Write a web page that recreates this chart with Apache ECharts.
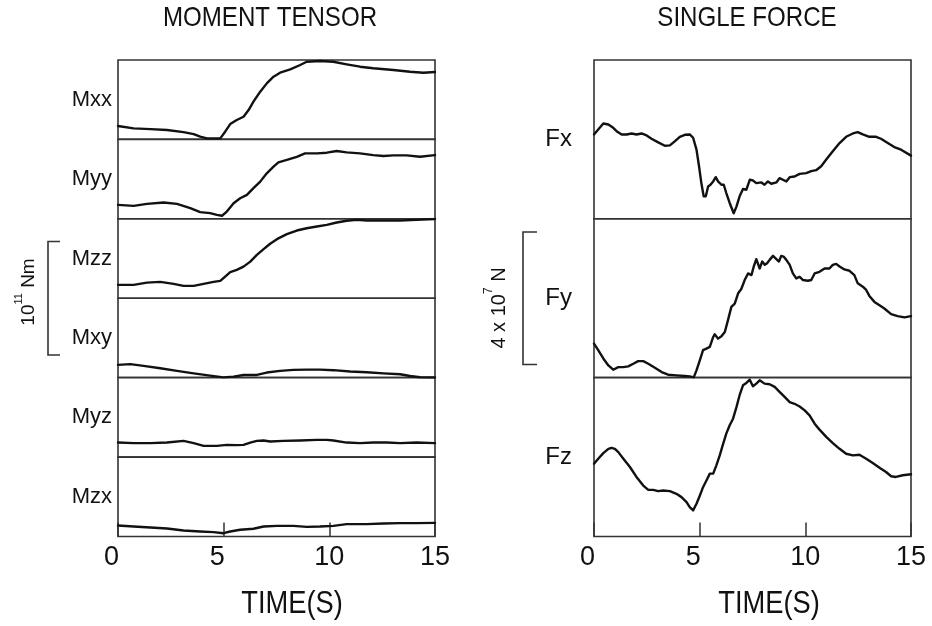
<!DOCTYPE html>
<html>
<head>
<meta charset="utf-8">
<script src="https://cdn.jsdelivr.net/npm/echarts@6/dist/echarts.min.js"></script>
<style>
html, body { margin: 0; padding: 0; background: #fff; }
#chart { width: 932px; height: 626px; }
</style>
</head>
<body>
<div id="chart"></div>
<script>
// ---- data -------------------------------------------------------------
// Time axis (s)
const TIME_MIN = 0;
const TIME_MAX = 15;
const TIME_STEP = 5;

const MOMENT_NAMES = ['Mxx', 'Myy', 'Mzz', 'Mxy', 'Myz', 'Mzx'];
const FORCE_NAMES = ['Fx', 'Fy', 'Fz'];

// Moment tensor components: [time (s), moment (1e11 Nm), arbitrary offset]
const MXX = [[0,0.118],[0.74,0.097],[1.53,0.091],[2.32,0.083],[3.10,0.064],[3.58,0.047],[3.89,0.024],[4.21,0.009],[4.84,0.009],[5.07,0.068],[5.31,0.135],[5.62,0.171],[5.94,0.200],[6.18,0.259],[6.41,0.333],[6.73,0.421],[7.04,0.494],[7.36,0.553],[7.67,0.588],[8.15,0.617],[8.62,0.656],[8.93,0.685],[9.56,0.691],[10.19,0.685],[10.82,0.662],[11.45,0.641],[12.08,0.627],[13.03,0.612],[13.82,0.597],[14.45,0.588],[15,0.594]];
const MYY = [[0,0.123],[0.74,0.114],[1.37,0.132],[2.16,0.144],[2.79,0.132],[3.42,0.094],[3.89,0.059],[4.36,0.050],[4.68,0.035],[4.92,0.027],[5.15,0.064],[5.47,0.138],[5.78,0.181],[6.10,0.211],[6.41,0.270],[6.73,0.328],[7.04,0.401],[7.36,0.460],[7.59,0.498],[7.99,0.519],[8.46,0.547],[8.85,0.577],[9.41,0.577],[9.88,0.583],[10.35,0.598],[10.82,0.586],[11.45,0.577],[12.08,0.562],[12.56,0.554],[13.03,0.559],[13.66,0.559],[14.29,0.547],[15,0.562]];
const MZZ = [[0,0.118],[0.74,0.118],[1.37,0.138],[2.00,0.144],[2.63,0.127],[3.10,0.109],[3.58,0.109],[4.05,0.127],[4.52,0.144],[4.84,0.153],[5.07,0.191],[5.31,0.230],[5.62,0.250],[5.94,0.279],[6.26,0.323],[6.57,0.382],[6.89,0.433],[7.20,0.480],[7.52,0.521],[7.99,0.565],[8.46,0.597],[8.93,0.617],[9.41,0.632],[9.88,0.647],[10.35,0.668],[10.82,0.683],[11.30,0.691],[11.77,0.685],[12.56,0.685],[13.35,0.685],[14.13,0.691],[15,0.698]];
const MXY = [[0,0.113],[0.58,0.119],[1.21,0.104],[2.00,0.083],[2.79,0.060],[3.58,0.038],[4.36,0.018],[4.99,0.003],[5.47,0.009],[5.94,0.024],[6.57,0.024],[7.04,0.045],[7.67,0.060],[8.30,0.069],[8.93,0.071],[9.56,0.071],[10.19,0.066],[10.98,0.054],[11.77,0.048],[12.56,0.038],[13.35,0.030],[13.82,0.015],[14.29,0.004],[15,0.002]];
const MYZ = [[0,0.128],[0.74,0.123],[1.53,0.123],[2.32,0.128],[3.10,0.143],[3.58,0.123],[4.05,0.099],[4.68,0.099],[5.15,0.108],[5.62,0.105],[5.94,0.108],[6.26,0.128],[6.57,0.143],[6.89,0.146],[7.20,0.137],[7.83,0.143],[8.62,0.146],[9.41,0.152],[9.88,0.152],[10.19,0.146],[10.82,0.128],[11.45,0.123],[12.08,0.128],[12.72,0.128],[13.35,0.123],[14.13,0.128],[15,0.123]];
const MZX = [[0,0.097],[0.74,0.088],[1.53,0.079],[2.32,0.071],[3.10,0.053],[3.89,0.044],[4.52,0.039],[4.99,0.029],[5.31,0.044],[5.78,0.059],[6.41,0.068],[6.89,0.088],[7.52,0.094],[8.30,0.094],[8.93,0.085],[9.56,0.088],[10.19,0.094],[10.82,0.109],[11.77,0.109],[12.56,0.115],[13.35,0.118],[14.13,0.118],[15,0.120]];

// Single force components: [time (s), force (1e7 N), arbitrary offset]
const FX = [[0,2.55],[0.20,2.70],[0.44,2.88],[0.68,2.85],[0.91,2.75],[1.07,2.65],[1.31,2.55],[1.54,2.55],[1.78,2.58],[2.01,2.55],[2.25,2.58],[2.49,2.52],[2.72,2.42],[3.04,2.31],[3.35,2.21],[3.59,2.22],[3.82,2.34],[4.06,2.48],[4.30,2.54],[4.53,2.55],[4.69,2.45],[4.85,2.09],[4.97,1.59],[5.08,1.08],[5.19,0.68],[5.29,0.68],[5.40,0.98],[5.51,1.03],[5.64,1.13],[5.76,1.26],[5.87,1.13],[6.03,1.03],[6.14,1.03],[6.26,0.78],[6.42,0.48],[6.61,0.17],[6.74,0.37],[6.89,0.68],[7.05,0.90],[7.21,0.88],[7.37,1.18],[7.52,1.16],[7.68,1.08],[7.92,1.10],[8.07,1.03],[8.23,1.13],[8.39,1.06],[8.63,1.10],[8.78,1.23],[8.94,1.18],[9.10,1.13],[9.26,1.26],[9.49,1.28],[9.73,1.36],[10.04,1.38],[10.28,1.44],[10.51,1.47],[10.75,1.59],[10.99,1.79],[11.30,2.04],[11.62,2.29],[11.93,2.48],[12.25,2.58],[12.48,2.62],[12.72,2.55],[13.03,2.48],[13.35,2.48],[13.58,2.42],[13.90,2.29],[14.21,2.17],[14.53,2.09],[15,1.91]];
const FY = [[0,1.03],[0.20,0.83],[0.44,0.58],[0.68,0.37],[0.91,0.24],[1.15,0.32],[1.39,0.32],[1.62,0.34],[1.86,0.42],[2.09,0.50],[2.33,0.50],[2.57,0.42],[2.88,0.30],[3.20,0.17],[3.51,0.09],[3.90,0.07],[4.30,0.05],[4.53,0.04],[4.72,0.01],[4.85,0.22],[5.01,0.53],[5.16,0.83],[5.32,0.88],[5.48,0.93],[5.64,1.23],[5.71,1.31],[5.87,1.18],[6.03,1.25],[6.19,1.38],[6.34,1.74],[6.50,2.14],[6.66,2.24],[6.82,2.55],[6.97,2.68],[7.13,2.95],[7.29,3.15],[7.45,3.10],[7.56,3.36],[7.68,3.58],[7.84,3.30],[7.96,3.51],[8.08,3.41],[8.19,3.46],[8.31,3.56],[8.47,3.68],[8.63,3.58],[8.75,3.51],[8.86,3.68],[8.97,3.66],[9.10,3.56],[9.26,3.41],[9.41,3.15],[9.57,3.00],[9.73,3.05],[9.89,2.95],[10.12,2.93],[10.28,2.95],[10.44,3.15],[10.67,3.20],[10.91,3.30],[11.14,3.30],[11.30,3.41],[11.46,3.44],[11.62,3.36],[11.85,3.27],[12.09,3.23],[12.32,3.10],[12.48,2.85],[12.72,2.75],[12.88,2.65],[13.03,2.47],[13.27,2.29],[13.51,2.19],[13.74,2.09],[14.06,1.92],[14.37,1.86],[14.69,1.82],[15,1.86]];
const FZ = [[0,2.20],[0.20,2.35],[0.44,2.52],[0.68,2.65],[0.83,2.68],[0.99,2.65],[1.15,2.55],[1.39,2.35],[1.70,2.10],[2.01,1.80],[2.33,1.54],[2.57,1.41],[2.80,1.41],[3.04,1.37],[3.27,1.39],[3.59,1.37],[3.90,1.29],[4.14,1.19],[4.38,1.04],[4.53,0.89],[4.69,0.79],[4.85,0.99],[5.01,1.24],[5.16,1.49],[5.32,1.69],[5.48,1.90],[5.64,1.90],[5.79,2.15],[5.95,2.45],[6.11,2.80],[6.26,3.11],[6.42,3.36],[6.58,3.56],[6.74,3.91],[6.89,4.27],[7.05,4.57],[7.21,4.64],[7.37,4.74],[7.52,4.54],[7.68,4.62],[7.84,4.72],[7.92,4.74],[8.07,4.62],[8.31,4.60],[8.55,4.52],[8.78,4.37],[9.02,4.22],[9.26,4.06],[9.49,4.01],[9.73,3.93],[9.97,3.81],[10.20,3.66],[10.44,3.41],[10.67,3.23],[10.99,3.01],[11.30,2.82],[11.62,2.65],[11.93,2.50],[12.25,2.45],[12.56,2.47],[12.88,2.35],[13.19,2.22],[13.51,2.08],[13.82,1.95],[14.06,1.82],[14.29,1.80],[14.61,1.85],[15,1.88]];

const MOMENT_DATA = [MXX, MYY, MZZ, MXY, MYZ, MZX];
const FORCE_DATA = [FX, FY, FZ];

// Vertical span of each panel in its own units
const MOMENT_SPAN = 0.7;   // 1e11 Nm
const FORCE_SPAN = 4.8;    // 1e7 N
const MOMENT_BAR = 1;      // scale bar: 1e11 Nm
const FORCE_BAR = 4;       // scale bar: 4e7 N

// ---- layout -------------------------------------------------------------
const PLOT_TOP = 60;
const PLOT_BOTTOM = 536.5;
const PLOT_W = 317;
const LEFT_X = 118;
const RIGHT_X = 594;
const FONT = '"Liberation Sans", Arial, Helvetica, sans-serif';
const INK = '#111';
const FRAME = '#333';

const mH = (PLOT_BOTTOM - PLOT_TOP) / MOMENT_NAMES.length;
const fH = (PLOT_BOTTOM - PLOT_TOP) / FORCE_NAMES.length;

const grids = [], xAxes = [], yAxes = [], series = [];

function addPanel(left, top, height, name, data, span, isBottom, nameGap, nameSize) {
  const i = grids.length;
  grids.push({
    left: left, top: top, width: PLOT_W, height: height,
    show: true, borderColor: FRAME, borderWidth: 1.6, backgroundColor: '#fff'
  });
  xAxes.push({
    gridIndex: i, type: 'value', min: TIME_MIN, max: TIME_MAX, interval: TIME_STEP,
    axisLine: { show: false },
    splitLine: { show: false },
    axisTick: { show: isBottom, inside: true, length: 14, lineStyle: { color: FRAME, width: 1.5 } },
    axisLabel: {
      show: isBottom, margin: 8, color: INK, fontSize: 27, fontFamily: FONT,
      formatter: v => (v === 0 || v === 5) ? '{s|' + v + '}' : String(v),
      rich: { s: { fontSize: 27, fontFamily: FONT, color: INK, padding: [0, 13, 0, 0] } }
    }
  });
  yAxes.push({
    gridIndex: i, type: 'value', min: 0, max: span,
    axisLine: { show: false }, axisTick: { show: false }, axisLabel: { show: false },
    splitLine: { show: false },
    name: name, nameLocation: 'middle', nameRotate: 0, nameGap: nameGap,
    nameTextStyle: { color: INK, fontSize: nameSize, fontFamily: FONT, padding: [18, 0, 0, 0] }
  });
  series.push({
    type: 'line', name: name, xAxisIndex: i, yAxisIndex: i, data: data,
    showSymbol: false, smooth: false, animation: false,
    lineStyle: { color: INK, width: 2.4, join: 'round', cap: 'round' }
  });
}

MOMENT_NAMES.forEach((n, k) => addPanel(LEFT_X, PLOT_TOP + k * mH, mH, n, MOMENT_DATA[k],
  MOMENT_SPAN, k === MOMENT_NAMES.length - 1, 6, 22));
FORCE_NAMES.forEach((n, k) => addPanel(RIGHT_X, PLOT_TOP + k * fH, fH, n, FORCE_DATA[k],
  FORCE_SPAN, k === FORCE_NAMES.length - 1, 22, 24));

// scale bars, sized from the panel scales
const mBar = MOMENT_BAR * mH / MOMENT_SPAN;
const fBar = FORCE_BAR * fH / FORCE_SPAN;
const mBarMid = PLOT_TOP + 3 * mH;
const fBarMid = PLOT_TOP + 1.5 * fH;

function bracket(x, xEnd, mid, len) {
  return {
    type: 'polyline', silent: true,
    shape: { points: [[xEnd, mid - len / 2], [x, mid - len / 2], [x, mid + len / 2], [xEnd, mid + len / 2]] },
    style: { stroke: FRAME, lineWidth: 1.6, fill: null }
  };
}

function condensed(text, x, y, size, sx) {
  return {
    type: 'text', x: x, y: y, scaleX: sx, silent: true,
    style: { text: text, fill: INK, font: size + 'px ' + FONT, align: 'center', verticalAlign: 'middle' }
  };
}

function unitLabel(text, x, y, size) {
  return {
    type: 'text', x: x, y: y, rotation: Math.PI / 2, silent: true,
    style: {
      text: text, fill: INK, align: 'center', verticalAlign: 'middle',
      rich: {
        b: { fontSize: size, fontFamily: FONT, color: INK, lineHeight: size + 6, verticalAlign: 'bottom' },
        sup: { fontSize: Math.round(size * 0.6), fontFamily: FONT, color: INK, lineHeight: 12, verticalAlign: 'top' }
      }
    }
  };
}

const chart = echarts.init(document.getElementById('chart'), null, { renderer: 'canvas' });
chart.setOption({
  backgroundColor: '#fff',
  animation: false,
  grid: grids,
  xAxis: xAxes,
  yAxis: yAxes,
  series: series,
  graphic: [
    condensed('MOMENT TENSOR', 270, 18, 28, 0.86),
    condensed('SINGLE FORCE', 747, 18, 28, 0.86),
    condensed('TIME(S)', 292, 604, 31, 0.88),
    condensed('TIME(S)', 769, 604, 31, 0.88),
    bracket(48, 60, mBarMid, mBar),
    bracket(523, 537, fBarMid, fBar),
    unitLabel('{b|10}{sup|11}{b| Nm}', 26, 292, 19),
    unitLabel('{b|4 x 10}{sup|7}{b| N}', 496, 308, 20)
  ]
});
</script>
</body>
</html>
